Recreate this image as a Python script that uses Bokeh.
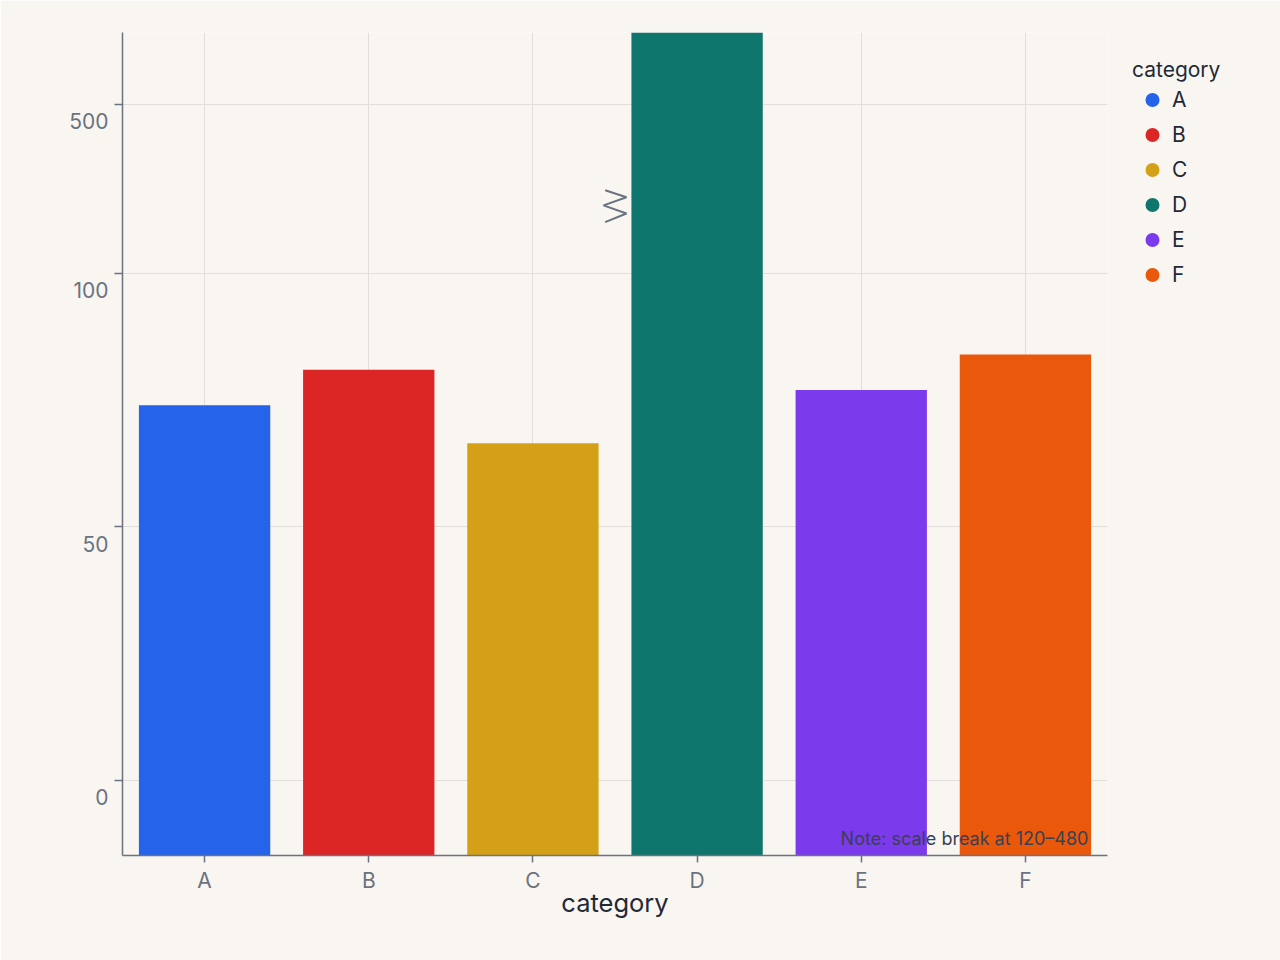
from bokeh.plotting import figure
from bokeh.models import (ColumnDataSource, FactorRange, Range1d, FixedTicker,
                          Label, Legend, LegendItem, LinearAxis)
from bokeh.embed import file_html
from bokeh.resources import INLINE

# ---- data ----
categories = ["A", "B", "C", "D", "E", "F"]
values = [74, 81, 66.5, 540, 77, 84]
colors = ["#2563eb", "#dc2626", "#d4a017", "#0f766e", "#7c3aed", "#ea580c"]
tick_values = [0, 50, 100, 500]
tick_labels = ["0", "50", "100", "500"]
break_low, break_high = 120, 480
upper_ratio = 2 / 3
note_text = "Note: scale break at 120\u2013480"


def to_axis(v):
    """Broken-axis transform: gap 120-480 removed, upper part compressed."""
    return v if v <= break_low else break_low + (v - break_high) * upper_ratio


y_start, y_end = -14.8, 147.5
FONT = "Inter"
AXIS_COL = "#6b7280"
BG = "#f9f6f1"
GRID = "#e2dfda"
px_per_unit = 823 / (y_end - y_start)
label_shift = 17 / px_per_unit

src = ColumnDataSource(dict(
    category=categories,
    value=values,
    t=[to_axis(v) for v in values],
    color=colors,
    nan=[float("nan")] * len(categories),
))

p = figure(x_range=FactorRange(*categories), y_range=Range1d(y_start, y_end),
           frame_width=985, frame_height=823,
           output_backend="svg", toolbar_location=None,
           min_border_left=122, min_border_right=173, min_border_top=32,
           min_border_bottom=105)
p.background_fill_color = BG
p.border_fill_color = BG
p.outline_line_color = None
p.extra_y_ranges = {"labels": Range1d(y_start + label_shift, y_end + label_shift)}

bars = p.vbar(x="category", top="t", bottom=y_start, width=0.8, source=src,
              fill_color="color", line_color=None)
dots = p.scatter(x="category", y="nan", source=src, size=14, fill_color="color",
                 line_color=None)

# grids
p.xgrid.grid_line_color = GRID
p.ygrid.grid_line_color = GRID
p.ygrid.ticker = FixedTicker(ticks=[to_axis(v) for v in tick_values])

tick_pos = [to_axis(v) for v in tick_values]

# main y axis: line + ticks only
p.yaxis.ticker = FixedTicker(ticks=tick_pos)
p.yaxis.major_label_overrides = {tp: "" for tp in tick_pos}
p.yaxis.major_tick_out = 8
p.yaxis.major_tick_in = 0
p.yaxis.major_label_standoff = 0
p.yaxis.minor_tick_line_color = None
p.yaxis.axis_line_color = AXIS_COL
p.yaxis.axis_line_width = 1.5
p.yaxis.major_tick_line_color = AXIS_COL
p.yaxis.major_tick_line_width = 1.5

# label axis: same ticks, labels sit below their tick marks
lab_axis = LinearAxis(y_range_name="labels", ticker=FixedTicker(ticks=tick_pos),
                      major_label_overrides={tp: t for tp, t in zip(tick_pos, tick_labels)},
                      axis_line_color=None, major_tick_line_color=None,
                      minor_tick_line_color=None, major_tick_out=0, major_tick_in=0,
                      major_label_standoff=6,
                      major_label_text_font=FONT, major_label_text_font_size="21px",
                      major_label_text_color=AXIS_COL)
p.add_layout(lab_axis, "left")

p.xaxis.axis_line_color = AXIS_COL
p.xaxis.axis_line_width = 1.5
p.xaxis.major_tick_line_color = AXIS_COL
p.xaxis.major_tick_line_width = 1.5
p.xaxis.major_tick_out = 7
p.xaxis.major_tick_in = 0
p.xaxis.major_label_text_font = FONT
p.xaxis.major_label_text_font_size = "21px"
p.xaxis.major_label_text_color = AXIS_COL
p.xaxis.major_label_standoff = 5
p.xaxis.axis_label = "category"
p.xaxis.axis_label_text_font = FONT
p.xaxis.axis_label_text_font_size = "25.5px"
p.xaxis.axis_label_text_font_style = "normal"
p.xaxis.axis_label_text_color = "#1f2937"
p.xaxis.axis_label_standoff = -9

# scale-break marker (zigzag) next to the D bar
d_idx = categories.index("D") + 0.5
bc = to_axis(break_low) - 6.8
zx = [d_idx - 0.56, d_idx - 0.43, d_idx - 0.57, d_idx - 0.43, d_idx - 0.56]
zy = [bc + 3.2, bc + 1.8, bc + 0.2, bc - 1.4, bc - 3.1]
p.line(zx, zy, line_color=AXIS_COL, line_width=2)

# note
p.add_layout(Label(x=5.884, y=-(838 - 780) / px_per_unit, text=note_text,
                   text_align="right", text_baseline="middle", text_font=FONT,
                   text_font_size="18px", text_color="#374151"))

# legend (outside the frame, right side)
items = [LegendItem(label=c, renderers=[dots], index=i) for i, c in enumerate(categories)]
legend = Legend(items=items, location="top_left", title="category",
                title_text_font=FONT, title_text_font_size="21px",
                title_text_color="#1f2937", title_text_font_style="normal",
                title_standoff=0,
                label_text_font=FONT, label_text_font_size="21px",
                label_text_color="#1f2937", label_standoff=0,
                glyph_width=40, glyph_height=35, label_height=35, spacing=0,
                padding=8, margin=17,
                background_fill_alpha=0, border_line_alpha=0)
p.add_layout(legend, "right")

open("out.html", "w").write(file_html(p, INLINE))
